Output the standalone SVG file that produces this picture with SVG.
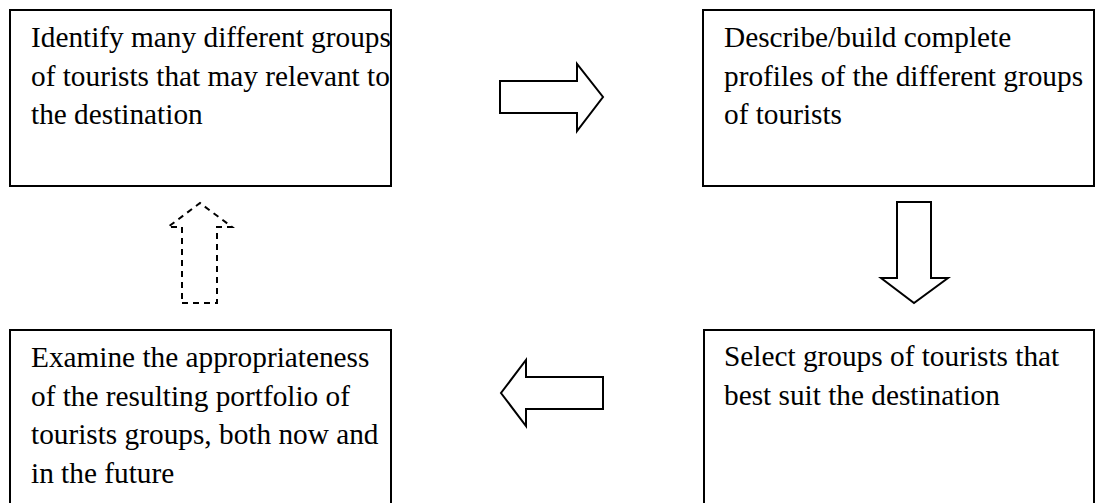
<svg xmlns="http://www.w3.org/2000/svg" width="1104" height="503" viewBox="0 0 1104 503">
<style>
.box{fill:#fff;stroke:#000;stroke-width:2}
.t{font-family:"Liberation Serif","Times New Roman",serif;font-size:29.3px;fill:#000}
.arr{fill:#fff;stroke:#000;stroke-width:2;stroke-linejoin:miter}
.dash{fill:none;stroke:#000;stroke-width:2;stroke-dasharray:6,5}
</style>
<rect width="1104" height="503" fill="#fff"/>
<g id="node1">
<rect class="box" x="10" y="10" width="381" height="176"/>
<text class="t" x="31" y="47">Identify many different groups</text>
<text class="t" x="31" y="85.5">of tourists that may relevant to</text>
<text class="t" x="31" y="124">the destination</text>
</g>
<g id="node2">
<rect class="box" x="703" y="10" width="391" height="176"/>
<text class="t" x="724" y="47">Describe/build complete</text>
<text class="t" x="724" y="85.5">profiles of the different groups</text>
<text class="t" x="724" y="124">of tourists</text>
</g>
<g id="node3">
<rect class="box" x="10" y="330" width="381" height="185"/>
<text class="t" x="31" y="367">Examine the appropriateness</text>
<text class="t" x="31" y="405.5">of the resulting portfolio of</text>
<text class="t" x="31" y="444">tourists groups, both now and</text>
<text class="t" x="31" y="482.5">in the future</text>
</g>
<g id="node4">
<rect class="box" x="704" y="330" width="390" height="185"/>
<text class="t" x="724" y="366">Select groups of tourists that</text>
<text class="t" x="724" y="404.5">best suit the destination</text>
</g>
<g id="connectors">
<polygon class="arr" points="500,81 577,81 577,64 603,97 577,131 577,113 500,113"/>
<polygon class="arr" points="897,202 931,202 931,278 948,278 914,303 881,278 897,278"/>
<polygon class="arr" points="603,377 526,377 526,360 501,393 526,426 526,409 603,409"/>
<polygon class="dash" points="182,303 217,303 217,227 232,227 200,203 168,227 182,227"/>
</g>
</svg>
